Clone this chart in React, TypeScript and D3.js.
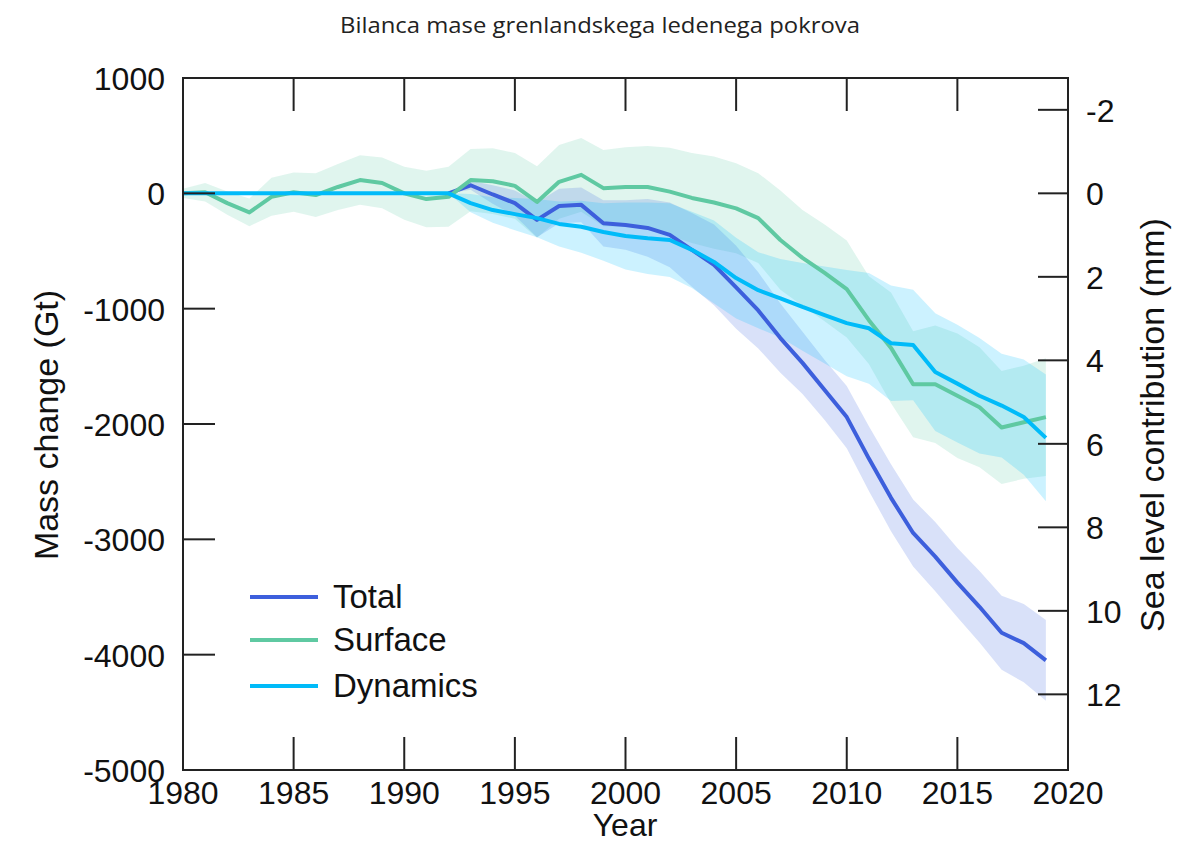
import React from "react";
import * as d3 from "d3";

const years = [1980,1981,1982,1983,1984,1985,1986,1987,1988,1989,1990,1991,1992,1993,1994,1995,1996,1997,1998,1999,2000,2001,2002,2003,2004,2005,2006,2007,2008,2009,2010,2011,2012,2013,2014,2015,2016,2017,2018,2019];

const totalValues: (number | null)[] = [null,null,null,null,null,null,null,null,null,null,null,null,0,70,-10,-85,-230,-110,-100,-260,-275,-300,-360,-490,-620,-815,-1015,-1255,-1470,-1705,-1940,-2300,-2640,-2945,-3150,-3375,-3585,-3810,-3900,-4050];
const totalErr: (number | null)[] = [null,null,null,null,null,null,null,null,null,null,null,null,0,40,80,110,150,150,150,200,215,250,280,320,350,360,330,300,270,260,270,280,290,290,300,300,310,320,340,350];

const surfaceValues = [0,10,-85,-165,-30,10,-15,55,115,90,0,-50,-30,115,105,65,-75,100,160,45,55,55,15,-40,-80,-130,-215,-405,-560,-690,-830,-1100,-1340,-1655,-1655,-1755,-1855,-2030,-1985,-1940];
const surfaceErr = [40,80,100,120,165,170,190,200,215,220,230,245,260,270,285,285,310,320,320,330,345,355,380,390,400,390,390,430,415,420,420,380,480,460,510,540,520,490,490,510];

const dynamicsValues = [0,0,0,0,0,0,0,0,0,0,0,0,0,-85,-145,-180,-215,-265,-290,-335,-370,-390,-405,-490,-595,-735,-840,-910,-985,-1055,-1125,-1170,-1300,-1315,-1550,-1650,-1755,-1840,-1940,-2120];
const dynamicsErr = [0,0,0,0,0,0,0,0,0,0,0,0,0,80,110,140,165,195,225,250,290,310,320,330,360,350,330,340,380,420,460,480,500,480,510,510,500,450,500,550];

const leftTicks = [1000,0,-1000,-2000,-3000,-4000,-5000];
const rightTicks = [-2,0,2,4,6,8,10,12];
const yearTicks = [1980,1985,1990,1995,2000,2005,2010,2015,2020];

const seriesNames = ["Total","Surface","Dynamics"];
const colors = { total: "#3d5fdc", surface: "#5fc9a2", dynamics: "#00bbf9" };
const bandColors = { total: "#4169e1", surface: "#66cdaa", dynamics: "#00bfff" };

const GT_PER_MM = 362;

const L = 183, R = 1068, T = 78, B = 770;
const FONT = "'Liberation Sans', Arial, sans-serif";

export default function App() {
  const x = d3.scaleLinear().domain([1980, 2020]).range([L, R]);
  const y = d3.scaleLinear().domain([-5000, 1000]).range([B, T]);
  const yR = d3.scaleLinear().domain([5000 / GT_PER_MM, -1000 / GT_PER_MM]).range([B, T]);

  type Pt = { yr: number; v: number | null; e: number | null };
  const mk = (vals: (number | null)[], errs: (number | null)[]): Pt[] =>
    years.map((yr, i) => ({ yr, v: vals[i], e: errs[i] }));

  const total = mk(totalValues, totalErr);
  const surface = mk(surfaceValues, surfaceErr);
  const dynamics = mk(dynamicsValues, dynamicsErr);

  const line = d3.line<Pt>().defined(d => d.v != null).x(d => x(d.yr)).y(d => y(d.v as number));
  const area = d3.area<Pt>().defined(d => d.v != null && d.e != null)
    .x(d => x(d.yr)).y0(d => y((d.v as number) - (d.e as number))).y1(d => y((d.v as number) + (d.e as number)));

  const tickLen = 32;

  const txt = (tx: number, ty: number, s: string, anchor: string, size = 32, key?: any) => (
    <text key={key} x={tx} y={ty} textAnchor={anchor} fontSize={size} fontFamily={FONT} fill="#111">{s}</text>
  );

  const legendY = [597, 640, 686];
  const legendColors = [colors.total, colors.surface, colors.dynamics];

  return (
    <svg width={1195} height={842} style={{ position: "absolute", left: 0, top: 0, background: "#fff" }}>
      <rect x={0} y={0} width={1195} height={842} fill="#fff" />
      <text x={600} y={33} textAnchor="middle" fontSize={21} fontFamily="'Open Sans', sans-serif" fill="#222" textLength={520} lengthAdjust="spacingAndGlyphs">Bilanca mase grenlandskega ledenega pokrova</text>

      <g>
        <path d={area(surface) || ""} fill={bandColors.surface} fillOpacity={0.2} />
        <path d={area(total) || ""} fill={bandColors.total} fillOpacity={0.2} />
        <path d={area(dynamics) || ""} fill={bandColors.dynamics} fillOpacity={0.2} />
      </g>
      <g fill="none" strokeWidth={4} strokeLinejoin="round">
        <path d={line(total) || ""} stroke={colors.total} />
        <path d={line(surface) || ""} stroke={colors.surface} />
        <path d={line(dynamics) || ""} stroke={colors.dynamics} />
      </g>

      <g stroke="#222" strokeWidth={2}>
        <rect x={L} y={T} width={R - L} height={B - T} fill="none" />
        {leftTicks.map(t => <line key={"l" + t} x1={L} x2={L + tickLen} y1={y(t)} y2={y(t)} />)}
        {rightTicks.map(t => <line key={"r" + t} x1={R} x2={R - 30} y1={yR(t)} y2={yR(t)} />)}
        {yearTicks.map(t => <line key={"b" + t} x1={x(t)} x2={x(t)} y1={B} y2={B - 33} />)}
        {yearTicks.map(t => <line key={"t" + t} x1={x(t)} x2={x(t)} y1={T} y2={T + 33} />)}
      </g>

      {leftTicks.map(t => txt(165, y(t) + 12, String(t), "end", 32, "lt" + t))}
      {rightTicks.map(t => txt(1086, yR(t) + 12, String(t), "start", 32, "rt" + t))}
      {yearTicks.map(t => txt(x(t), 804, String(t), "middle", 32, "yt" + t))}
      {txt(625, 836, "Year", "middle", 32, "yl")}

      <text transform={`translate(58,425) rotate(-90)`} textAnchor="middle" fontSize={34} fontFamily={FONT} fill="#111">Mass change (Gt)</text>
      <text transform={`translate(1164,425) rotate(-90)`} textAnchor="middle" fontSize={34} fontFamily={FONT} fill="#111">Sea level contribution (mm)</text>

      <g>
        {seriesNames.map((n, i) => (
          <g key={n}>
            <line x1={250} x2={318} y1={legendY[i]} y2={legendY[i]} stroke={legendColors[i]} strokeWidth={4} />
            {txt(333, legendY[i] + 11, n, "start", 33)}
          </g>
        ))}
      </g>
    </svg>
  );
}
